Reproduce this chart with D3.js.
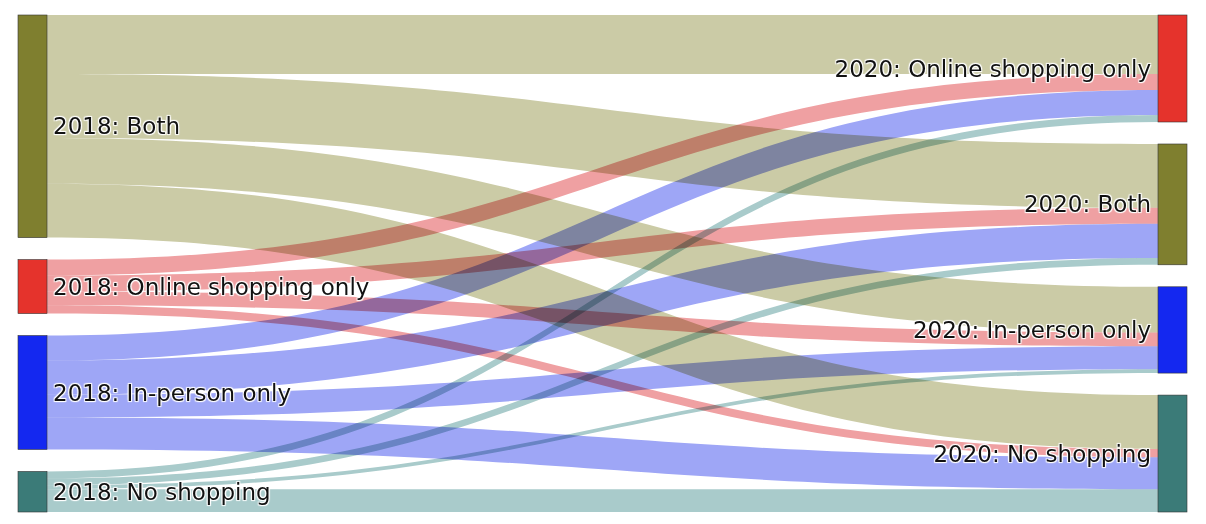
<!DOCTYPE html>
<html lang="en">
<head>
<meta charset="utf-8">
<title>Shopping 2018 vs 2020</title>
<script src="https://cdn.jsdelivr.net/npm/d3@7"></script>
<style>
  body { margin: 0; background: #fff; }
  svg text { font-family: "DejaVu Sans", Verdana, sans-serif; }
</style>
</head>
<body>
<script>
// node labels
var left = ["2018: Both", "2018: Online shopping only", "2018: In-person only", "2018: No shopping"];
var right = ["2020: Online shopping only", "2020: Both", "2020: In-person only", "2020: No shopping"];

// flows (share, %) from each 2018 group to the 2020 groups, in "right" order
var fromBoth     = [13.7, 14.8, 10.6, 12.5];
var fromOnline   = [3.7, 3.7, 3.2, 1.9];
var fromInPerson = [5.8, 7.9, 5.3, 7.4];
var fromNone     = [1.6, 1.6, 0.9, 5.3];

var leftColors  = ["#7f7f2f", "#e5332c", "#1428f0", "#3b7b78"];
var rightColors = ["#e5332c", "#7f7f2f", "#1428f0", "#3b7b78"];
var linkColors  = ["#cbcba6", "#efa0a2", "#9ea6f6", "#a9cbcb"];

var W = 1206, H = 524;
var yTop = 15, yBottom = 512, gap = 22, nodeW = 29;
var xLeft = 18, xRight = 1158;

var flows = [fromBoth, fromOnline, fromInPerson, fromNone];
var total = d3.sum(flows, function(r) { return d3.sum(r); });

var k = d3.scaleLinear().domain([0, total]).range([0, (yBottom - yTop) - 3 * gap]);

// stack nodes in a column
function stack(vals) {
  var y = yTop, out = [];
  vals.forEach(function(v) {
    out.push({y0: y, y1: y + k(v), v: v});
    y += k(v) + gap;
  });
  return out;
}

var leftVals = flows.map(function(r) { return d3.sum(r); });
var rightVals = d3.range(4).map(function(j) { return d3.sum(flows, function(r) { return r[j]; }); });
var leftNodes = stack(leftVals);
var rightNodes = stack(rightVals);

// link positions: at source by target order, at target by source order
var links = [];
var srcOff = leftNodes.map(function(n) { return n.y0; });
var tgtOff = rightNodes.map(function(n) { return n.y0; });
for (var i = 0; i < 4; i++) {
  for (var j = 0; j < 4; j++) {
    var h = k(flows[i][j]);
    links.push({s: i, t: j, sy: srcOff[i], ty: 0, h: h});
    srcOff[i] += h;
  }
}
links.forEach(function(l) { l.ty = tgtOff[l.t]; tgtOff[l.t] += l.h; });

var x0 = xLeft + nodeW, x1 = xRight, xm = (x0 + x1) / 2;
function ribbon(l) {
  return "M" + x0 + "," + l.sy +
    "C" + xm + "," + l.sy + " " + xm + "," + l.ty + " " + x1 + "," + l.ty +
    "L" + x1 + "," + (l.ty + l.h) +
    "C" + xm + "," + (l.ty + l.h) + " " + xm + "," + (l.sy + l.h) + " " + x0 + "," + (l.sy + l.h) + "Z";
}

var svg = d3.select("body").append("svg")
  .attr("width", W).attr("height", H);

svg.append("rect").attr("width", W).attr("height", H).attr("fill", "#fff");

svg.append("g")
  .style("isolation", "isolate")
  .selectAll("path")
  .data(links)
  .enter().append("path")
  .attr("d", ribbon)
  .attr("fill", function(d) { return linkColors[d.s]; })
  .style("mix-blend-mode", "multiply");

svg.append("g").selectAll("rect")
  .data(leftNodes)
  .enter().append("rect")
  .attr("x", xLeft).attr("y", function(d) { return d.y0; })
  .attr("width", nodeW).attr("height", function(d) { return d.y1 - d.y0; })
  .attr("fill", function(d, i) { return leftColors[i]; })
  .attr("stroke", "#333").attr("stroke-width", 0.6);

svg.append("g").selectAll("rect")
  .data(rightNodes)
  .enter().append("rect")
  .attr("x", xRight).attr("y", function(d) { return d.y0; })
  .attr("width", nodeW).attr("height", function(d) { return d.y1 - d.y0; })
  .attr("fill", function(d, i) { return rightColors[i]; })
  .attr("stroke", "#333").attr("stroke-width", 0.6);

var halo = "1px 1px 1px #fff, -1px -1px 1px #fff, 1px -1px 1px #fff, -1px 1px 1px #fff";

svg.append("g").selectAll("text")
  .data(leftNodes)
  .enter().append("text")
  .attr("x", xLeft + nodeW + 6)
  .attr("y", function(d) { return (d.y0 + d.y1) / 2; })
  .attr("dy", "0.35em")
  .attr("font-size", 23)
  .attr("fill", "#111")
  .style("text-shadow", halo)
  .text(function(d, i) { return left[i]; });

svg.append("g").selectAll("text")
  .data(rightNodes)
  .enter().append("text")
  .attr("x", xRight - 7)
  .attr("y", function(d) { return (d.y0 + d.y1) / 2; })
  .attr("dy", "0.35em")
  .attr("text-anchor", "end")
  .attr("font-size", 23)
  .attr("fill", "#111")
  .style("text-shadow", halo)
  .text(function(d, i) { return right[i]; });
</script>
</body>
</html>
